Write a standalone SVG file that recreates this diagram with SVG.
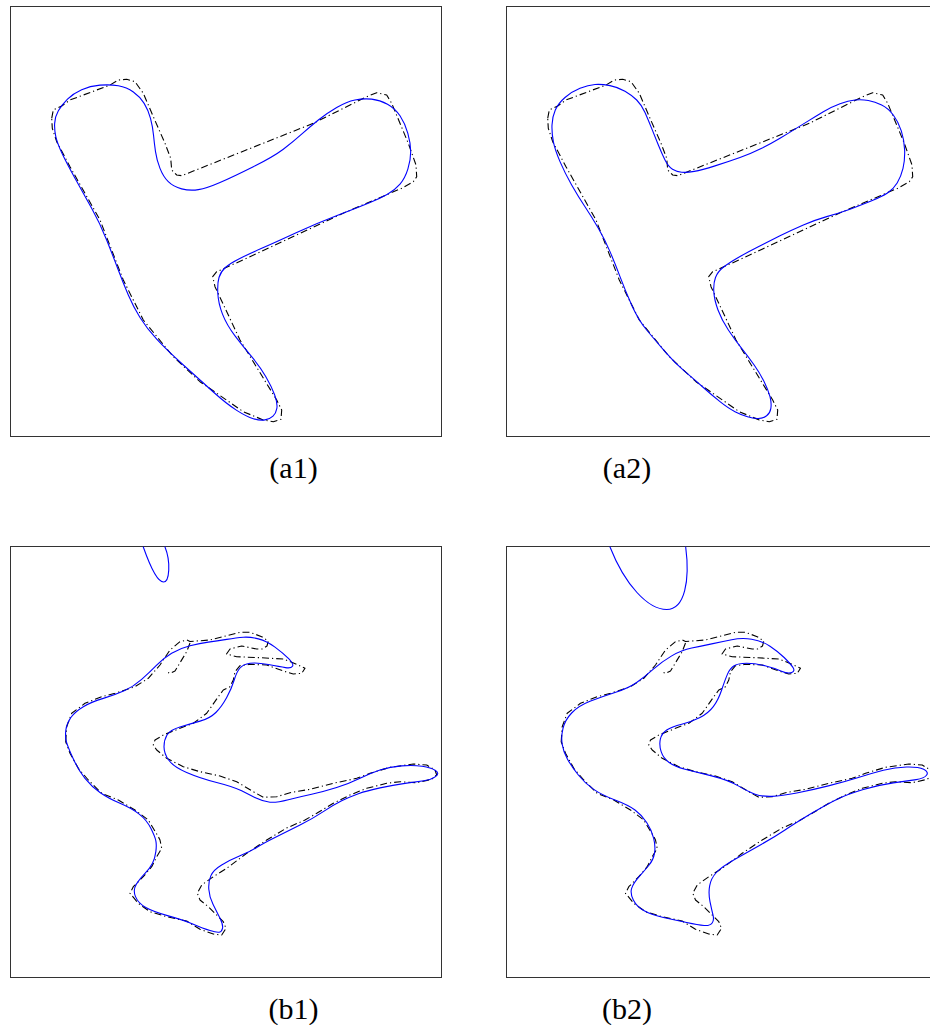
<svg xmlns="http://www.w3.org/2000/svg" xmlns:xlink="http://www.w3.org/1999/xlink" width="930" height="1025" viewBox="0 0 930 1025">
<style>
.frame{fill:none;stroke:#333;stroke-width:1}
.est{fill:none;stroke:#0000ff;stroke-width:1.1;stroke-linejoin:round;stroke-linecap:round}
.ref{fill:none;stroke:#000;stroke-width:1.1;stroke-dasharray:7 3 1.2 3;stroke-linejoin:round}
.lbl{font-family:"Liberation Serif","Times New Roman",serif;font-size:30px;fill:#000;text-anchor:middle}
</style>
<defs>
<path id="refA" d="M51.7,118.3 L53.3,110 L61.7,106 L70,100 L110,85 L118.3,80 L126.7,79.3 L135,81.7 L143.3,93.3 L153.3,116.7 L165,143.3 L170.7,158.3 L171.7,170 L176.7,175 L181.7,175.7 L313.3,123.3 L366.7,96.7 L376.7,92.7 L386.7,95 L391.7,103.3 L408.3,143.3 L416,165 L416.7,176.7 L413.3,181.7 L401.7,188.3 L346.7,211.7 L246.7,258.3 L216.7,271.7 L212.7,276.7 L215,286.7 L240,340 L276.7,400 L281.7,410 L281,419.3 L273.3,421.7 L263.3,420 L243.3,411.7 L200,381.7 L173.3,356.7 L143.3,320 L123.3,280 L100,220 L70,166.7 L56.7,141.7 L52.3,128.3 Z"/>
<path id="refB" d="M65.7,741.7 L66.7,726.7 L71.7,713.3 L85,703.3 L101.7,696.7 L115,693.3 L135,686.7 L148.3,678.3 L160,665 L170,650 L180,641.7 L186.7,640 L190,641.5 L210,640 L226.7,635.7 L240,632.3 L250,632.3 L261.7,636.7 L268.3,641 L267,646 L262,649 L256.7,649 L241.7,646 L230,649 L226.5,654 L236.7,656.7 L260,657.7 L283.3,659 L296.7,664.3 L305,668.3 L301.7,673.3 L293.3,674 L283.3,671 L266.7,665 L250,664.3 L240,665.7 L235,671.7 L233.3,680 L230,686.7 L223.3,690 L218.3,696.7 L206.7,713.3 L200,718.3 L193.3,723.3 L180,728.3 L163.3,735 L155,740 L153.3,745 L156.7,750 L166.7,758.3 L183.3,766.7 L200,771.7 L220,776 L236.7,781.7 L253.3,791.7 L263.3,797.3 L276.7,796.7 L290,792.7 L310,789.3 L333.3,783.3 L356.7,778.3 L370,773.3 L390,767.3 L413.3,764 L426.7,765 L435,770 L436.7,775 L431.7,779.3 L416.7,782.7 L400,781.7 L386.7,783.3 L366.7,788.3 L350,795 L333.3,803.3 L316.7,813.3 L305,820 L286.7,828 L266.7,840 L246.7,853.3 L226.7,868.3 L213.3,876.7 L201.7,885 L197.3,893.3 L200,900 L208.3,906.7 L216.7,915 L223.3,921.7 L226,928.3 L221.7,935 L213.3,934 L200,929.3 L186.7,921 L166.7,916.7 L150,911.7 L138.3,903.3 L130,893.3 L133.3,886.7 L143.3,876.7 L151.7,866.7 L156.7,856.7 L161.7,848.3 L160,840 L158.3,836.7 L148.3,820 L135,810 L118.3,800 L101.7,793.3 L88.3,780 L78.3,768.3 L70,753.3 Z M190,643 L186.7,651.7 L180,662.7 L175,671 L170,673.5 L167,672"/>
</defs>
<g id="panel-a1">
<rect class="frame" x="10.5" y="6.5" width="431" height="430"/>
<use xlink:href="#refA" href="#refA" class="ref"/>
<path class="est" d="M54.65,123.35 Q55,116.7 58.35,110.85 T67.5,99.15 T81.65,89.65 T100,85.15 T118.35,85.8 T133.35,92 T144.15,103.35 T150.5,118.35 T153.5,135 T155.5,151.65 T160,168.35 T168.3,181.7 T181.65,188.85 T198.35,189.65 T220,182.5 T253.3,166.7 T283.3,149.2 T301.65,134.2 T318.35,120 T336.7,107.5 T355,100 T371.65,99.15 T387.5,104.15 T400,115.8 T407.85,133.3 T410.7,151.65 T407.85,169.15 T400,184.15 T387.5,194.15 T370,202.5 T338.35,215 T296.7,232.5 T261.7,248.35 T238.35,259.15 T225.35,267.5 T219,277.5 T217.8,293.3 T222.5,314.15 T235,335.85 T251.65,356.7 T265.85,376.7 T274.7,395 T276.85,408.3 T273,416.15 T265,419.85 T253.35,418.7 T236.7,410.35 T213.35,392 T183.35,365 T156.7,339.15 T140,317.5 T128.3,295 T118.3,270 T106.65,240 T91.65,208.3 T75,178.3 T62,153.3 T55.8,136.65 T54.65,123.35 Z"/>
<text class="lbl" x="293.5" y="478">(a1)</text>
</g>
<g id="panel-a2">
<rect class="frame" x="506.5" y="6.5" width="431" height="430"/>
<use xlink:href="#refA" href="#refA" class="ref" transform="translate(496,0)"/>
<path class="est" d="M552,125 Q552.3,116.7 555.3,110 T565,97.5 T580,88.35 T595,84.5 T610,85.65 T625,91.15 T636.7,100 T645,112.5 T651.65,128.35 T658.35,145 T665,160 T672.5,169.2 T681.7,172.2 T694.2,171.35 T715,165.85 T740,157.5 T761.7,148.3 T780,138.3 T795,129.15 T808.35,120.85 T823.35,111.7 T840,103.7 T855,100 T868.35,100.5 T881.65,105 T893.3,115 T901.3,130.85 T904.65,150 T903,168.35 T897.15,183 T887.5,193 T871.7,200.85 T850,209.15 T826.65,216.65 T803.35,225 T780,235.85 T758.3,246.7 T738.3,257.5 T723,267.5 T715.5,277.5 T713.8,291.65 T718,310 T728.35,330 T741.65,348.35 T754.15,365 T764.15,381.65 T770,396.65 T770.85,408.3 T766.65,415.8 T758.3,418.5 T747.5,416.85 T735,411.65 T720,401.65 T703.35,387.5 T685,371.65 T665,351.65 T646.65,330 T631.65,305 T620,276.65 T610,251.65 T598.35,228.35 T585,206.7 T571.65,185 T560,161.65 T553.35,141.65 T552,125 Z"/>
<text class="lbl" x="627" y="478">(a2)</text>
</g>
<g id="panel-b1">
<rect class="frame" x="10.5" y="546.5" width="431" height="431"/>
<use xlink:href="#refB" href="#refB" class="ref"/>
<path class="est" d="M143.3,547 C150,566 157,582 163.5,582 C169.5,582 171,562 165,547"/>
<path class="est" d="M65.85,730 Q66.7,723.3 70.85,717.5 T83.35,706.7 T103.35,698.35 T124.15,690.85 T141.65,679.35 T156.65,665.15 T171.65,653.3 T190,645.8 T208.35,642.15 T226.7,639.35 T243.35,637.2 T258.35,638.85 T275,647.15 T288.65,658.65 T292.5,666.25 T285.5,667.6 T268.35,664.5 T250,663.3 T240,668 T234.2,680 T226.7,697.5 T215.85,712.5 T200,721.15 T180,727 T167,735 T164,746.65 T168.65,760 T186.65,772.5 T216.65,782.5 T241.65,790.85 T256.65,798.35 T270,802.2 T288.35,799.7 T311.65,794.2 T336.65,787.5 T360,778.3 T380,770 T401.65,765.85 T422.15,766.25 T435.5,770.5 T435.5,776.65 T423.85,780.75 T405,783.35 T380,787.85 T358.35,793.7 T341.65,800.85 T323.3,811.65 T300,825 T275,837.5 T256.65,847.5 T240,855.85 T221.65,865 T210.8,875.85 T208.8,889.2 T213,904.2 T220,918.35 T222.5,928.35 T219.2,932.2 T210,930.5 T193.3,924.15 T168.3,915.85 T145.8,907.5 T135.5,896.65 T136.35,884.15 T145,873.3 T152.5,863.3 T155.85,851.65 T155.85,840.85 T150.85,828.35 T139.2,814.15 T120,803.3 T100,792.5 T85,778.35 T73,758.35 T66.35,741.7 T65.85,730 Z"/>
<text class="lbl" x="293.5" y="1019">(b1)</text>
</g>
<g id="panel-b2">
<rect class="frame" x="506.5" y="546.5" width="431" height="431"/>
<use xlink:href="#refB" href="#refB" class="ref" transform="translate(495.5,0)"/>
<path class="est" d="M610,547 C625,585 648,609.5 666.7,609.5 C685,609.5 690,580 685.7,547"/>
<path class="est" d="M563,728.35 Q565,720 571.65,713 T590,701.35 T615,692.5 T636.65,682.5 T653.35,669.2 T671.7,655.85 T691.7,648 T711.7,643.85 T731.7,639.7 T751.7,639.2 T770,646.2 T784.15,657.5 T792.75,667.15 T791.75,672.5 T781.5,671.15 T765,665.8 T746.65,663.3 T734.15,665.8 T727.5,674.15 T721.65,690 T713.3,706.65 T700,717.5 T681.7,724.2 T666.7,730 T660.35,739.15 T661.15,751.65 T669.15,762.5 T685,769.2 T711.65,775.85 T738.3,785.85 T755,794.2 T771.7,796.35 T796.7,793 T828.35,785.85 T858.35,777.5 T883.35,770.3 T906.65,767 T923.65,769.35 T926.5,775.25 T916.15,779.6 T893.3,782.85 T863.3,789.5 T838.3,798.65 T811.65,813.3 T785,830 T761.65,844.2 T735,859.2 T716.35,872.5 T709.65,885.8 T710,901.65 T713,915 T712.15,923 T704.15,925.5 T686.65,922.5 T663.35,917.5 T644.2,910.85 T633.35,900 T631.65,888.3 T639.15,876.65 T649.15,865 T654.5,853.35 T653.7,838.35 T646.7,822.5 T635,810 T615,800 T593.35,789.15 T578.35,775 T567.5,759.2 T562.15,744.2 T563,728.35 Z"/>
<text class="lbl" x="627" y="1019">(b2)</text>
</g>
</svg>
